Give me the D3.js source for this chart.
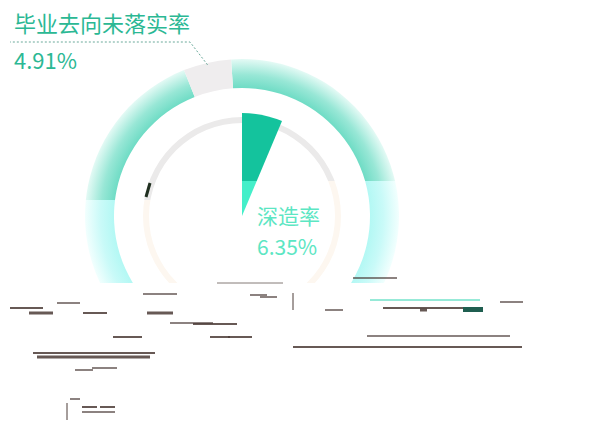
<!DOCTYPE html>
<html>
<head>
<meta charset="utf-8">
<script src="https://cdn.jsdelivr.net/npm/d3@7"></script>
<style>
  html, body { margin: 0; padding: 0; background: #fff; }
  svg { display: block; }
  .label { font-family: "Noto Sans CJK SC", "Noto Sans", sans-serif; }
</style>
</head>
<body>
<svg id="chart" width="595" height="430"></svg>
<script>
// data
const outerNames = ['毕业去向落实', '毕业去向未落实率'];
const outerValues = [95.09, 4.91];
const innerNames = ['深造率', '其他'];
const innerValues = [6.35, 93.65];
const outerLabel = { name: '毕业去向未落实率', value: '4.91%' };
const innerLabel = { name: '深造率', value: '6.35%' };

const svg = d3.select('#chart');
const W = 595, H = 430;
const cx = 242, cy = 216;
const R = { outerIn: 128, outerOut: 157, ringIn: 93, ringOut: 99, wedge: 103 };
const deg = Math.PI / 180;

const defs = svg.append('defs');

// radial gradients for the outer ring (upper teal part, lower cyan part)
// coordinates are in the translated group's space, so centre is 0,0
function radial(id, inner, outer) {
    const g = defs.append('radialGradient').attr('id', id)
        .attr('gradientUnits', 'userSpaceOnUse')
        .attr('cx', 0).attr('cy', 0).attr('r', R.outerOut);
    g.append('stop').attr('offset', R.outerIn / R.outerOut).attr('stop-color', inner);
    g.append('stop').attr('offset', 0.9).attr('stop-color', d3.interpolateRgb(inner, outer)(0.35));
    g.append('stop').attr('offset', 1).attr('stop-color', outer);
}
radial('tealRing', '#6fdcc5', '#e4faf5');
radial('cyanRing', '#b3f8f4', '#f2fffe');

// the picture is split in an upper and lower tone
defs.append('clipPath').attr('id', 'upper').append('path')
    .attr('d', `M0,0 H${W} V181 H${cx} V200 H0 Z`);
defs.append('clipPath').attr('id', 'lower').append('path')
    .attr('d', `M0,200 H${cx} V181 H${W} V283 H0 Z`);

// outer ring
const outerPie = d3.pie().sort(null).startAngle(-4 * deg).endAngle(356 * deg);
const outerArcs = outerPie(outerValues);
const outerArc = d3.arc().innerRadius(R.outerIn).outerRadius(R.outerOut);

const upperG = svg.append('g').attr('clip-path', 'url(#upper)')
    .append('g').attr('transform', `translate(${cx},${cy})`);
const lowerG = svg.append('g').attr('clip-path', 'url(#lower)')
    .append('g').attr('transform', `translate(${cx},${cy})`);

upperG.selectAll('path.outer').data(outerArcs).join('path')
    .attr('class', 'outer')
    .attr('d', outerArc)
    .attr('fill', (d, i) => i === 0 ? 'url(#tealRing)' : '#efedee');
lowerG.selectAll('path.outer').data(outerArcs).join('path')
    .attr('class', 'outer')
    .attr('d', outerArc)
    .attr('fill', (d, i) => i === 0 ? 'url(#cyanRing)' : '#efedee');

// inner thin ring
const ringArc = d3.arc().innerRadius(R.ringIn).outerRadius(R.ringOut);
const full = { startAngle: 0, endAngle: 2 * Math.PI };
upperG.append('path').attr('d', ringArc(full)).attr('fill', '#ebeaea');
lowerG.append('path').attr('d', ringArc(full)).attr('fill', '#fdf7f0');

// inner wedge (深造率)
const innerPie = d3.pie().sort(null);
const innerArcs = innerPie(innerValues);
const wedgeArc = d3.arc().innerRadius(0).outerRadius(R.wedge);
upperG.append('path').attr('d', wedgeArc(innerArcs[0])).attr('fill', '#14c39d');
lowerG.append('path').attr('d', wedgeArc(innerArcs[0])).attr('fill', '#44efc9');

// small dark artifact on the inner ring
svg.append('line')
    .attr('x1', cx - 92).attr('y1', cy - 33).attr('x2', cx - 96).attr('y2', cy - 19)
    .attr('stroke', '#203020').attr('stroke-width', 3);

// leader line for the outer label
const midA = (outerArcs[1].startAngle + outerArcs[1].endAngle) / 2;
const p0 = [Math.sin(midA) * 155 + cx, -Math.cos(midA) * 155 + cy];
svg.append('polyline')
    .attr('points', [p0, [190, 42], [10, 42]].map(p => p.join(',')).join(' '))
    .attr('fill', 'none')
    .attr('stroke', '#6aa99a')
    .attr('stroke-width', 1)
    .attr('stroke-dasharray', '2,2');

svg.append('text').attr('class', 'label')
    .attr('x', 14).attr('y', 32)
    .attr('font-size', 22).attr('fill', '#2bb894')
    .text(outerLabel.name);
svg.append('text').attr('class', 'label')
    .attr('x', 14).attr('y', 69)
    .attr('font-size', 22).attr('fill', '#2bb894')
    .text(outerLabel.value);

svg.append('text').attr('class', 'label')
    .attr('x', 257).attr('y', 224)
    .attr('font-size', 21).attr('fill', '#5ce6c3')
    .text(innerLabel.name);
svg.append('text').attr('class', 'label')
    .attr('x', 257).attr('y', 255)
    .attr('font-size', 21).attr('fill', '#5ce6c3')
    .text(innerLabel.value);

// broken strokes in the lower part of the picture
const artifactStrokes = [
    [10, 43, 308, 2], [29, 53, 313, 3], [57, 80, 303, 1.5], [83, 107, 313, 2],
    [33, 155, 353, 2], [37, 150, 357, 3], [143, 177, 294, 1.5], [147, 173, 313, 3],
    [193, 237, 324, 2], [250, 267, 295, 1.5], [228, 252, 337, 2], [113, 142, 337, 2],
    [75, 93, 370, 1.5], [92, 117, 368, 1.5], [82, 97, 407, 2], [100, 115, 407, 2],
    [82, 115, 412, 1.5], [353, 397, 278, 1.5], [383, 483, 308, 2], [367, 510, 336, 1.5],
    [293, 522, 347, 2], [500, 523, 302, 1.5], [170, 213, 323, 1.5], [210, 230, 337, 2],
    [325, 343, 310, 1.5], [260, 277, 297, 1.5], [217, 283, 283, 0.8], [420, 427, 310, 3],
    [70, 80, 399, 1.5]
];
svg.append('g').selectAll('line').data(artifactStrokes).join('line')
    .attr('x1', d => d[0]).attr('x2', d => d[1])
    .attr('y1', d => d[2]).attr('y2', d => d[2])
    .attr('stroke', '#4d3d38')
    .attr('stroke-width', d => d[3])
    .attr('opacity', 0.85);
svg.append('line').attr('x1', 370).attr('x2', 480).attr('y1', 300).attr('y2', 300)
    .attr('stroke', '#2fd4b0').attr('stroke-width', 1);
svg.append('rect').attr('x', 463).attr('y', 307).attr('width', 20).attr('height', 5)
    .attr('fill', '#1f5e50');
svg.append('line').attr('x1', 293).attr('x2', 293).attr('y1', 293).attr('y2', 310)
    .attr('stroke', '#4d3d38').attr('stroke-width', 1);
svg.append('line').attr('x1', 67).attr('x2', 67).attr('y1', 403).attr('y2', 420)
    .attr('stroke', '#4d3d38').attr('stroke-width', 1);
</script>
</body>
</html>
